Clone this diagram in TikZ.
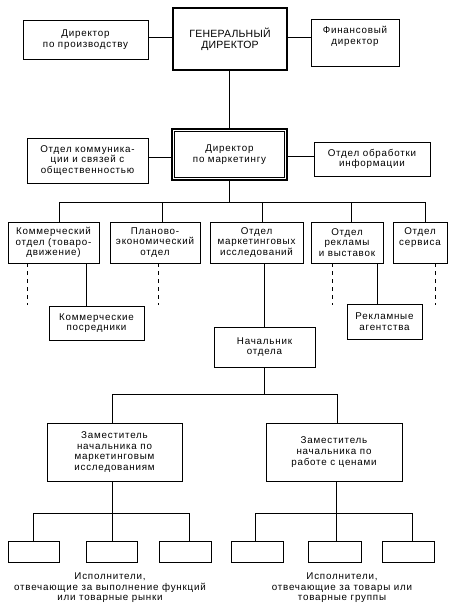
\documentclass[tikz,border=0pt]{standalone}
\usepackage{fontspec}
\setmainfont{Liberation Sans}[LetterSpace=8]
\newfontfamily\gdfont{Liberation Sans}[LetterSpace=2]
\begin{document}
\begin{tikzpicture}[x=1pt,y=-1pt,
  ebox/.style={draw, line width=0.9pt, align=center, inner sep=1pt,
    font=\fontsize{9.8}{10.6}\selectfont},
  conn/.style={line width=0.9pt},
  dashln/.style={line width=0.9pt, dash pattern=on 4pt off 4pt},
  lbl/.style={align=center, inner sep=0pt, font=\fontsize{9.8}{10.4}\selectfont}]
\useasboundingbox (0,0) rectangle (457,611);
% top row
\node[ebox, minimum width=125, minimum height=39] (prod) at (85.5,39.5) {Директор\\по производству};
\node[ebox, line width=1.9pt, minimum width=114, minimum height=62,
  font=\gdfont\fontsize{10.5}{11}\selectfont] (gd) at (230,39) {ГЕНЕРАЛЬНЫЙ\\ДИРЕКТОР};
\node[ebox, minimum width=88, minimum height=47, text depth=14pt] (fin) at (355,42.5) {Финансовый\\директор};
% marketing row
\node[ebox, minimum width=121, minimum height=45] (comm) at (87.5,160.5) {Отдел коммуника-\\ции и связей с\\общественностью};
\node[ebox, line width=1.9pt, minimum width=115, minimum height=51] (mkt) at (229.5,154.5) {Директор\\по маркетингу};
\draw[line width=0.9pt] ([shift={(3.5,3.5)}]mkt.north west) rectangle ([shift={(-3.5,-3.5)}]mkt.south east);
\node[ebox, minimum width=116, minimum height=34] (info) at (372,159) {Отдел обработки\\информации};
% departments
\node[ebox, minimum width=91, minimum height=41] (d1) at (53.5,242.5) {Коммерческий\\отдел (товаро-\\движение)};
\node[ebox, minimum width=90, minimum height=41] (d2) at (155,242.5) {Планово-\\экономический\\отдел};
\node[ebox, minimum width=93, minimum height=41] (d3) at (256.5,242.5) {Отдел\\маркетинговых\\исследований};
\node[ebox, minimum width=72, minimum height=41] (d4) at (347,242.5) {Отдел\\рекламы\\и выставок};
\node[ebox, minimum width=54, minimum height=41, text depth=12pt] (d5) at (420,242.5) {Отдел\\сервиса};
\node[ebox, minimum width=95, minimum height=34] (ci) at (96.5,323) {Коммерческие\\посредники};
\node[ebox, minimum width=75, minimum height=35] (aa) at (384.5,321.5) {Рекламные\\агентства};
\node[ebox, minimum width=101, minimum height=40] (head) at (264.5,347) {Начальник\\отдела};
\node[ebox, minimum width=135, minimum height=58] (dep1) at (114.5,452) {Заместитель\\начальника по\\маркетинговым\\исследованиям};
\node[ebox, minimum width=136, minimum height=58] (dep2) at (334,452) {Заместитель\\начальника по\\работе с ценами};
% executors
\node[ebox, minimum width=51, minimum height=21] (e1) at (33.5,551.5) {};
\node[ebox, minimum width=51, minimum height=21] (e2) at (111.5,551.5) {};
\node[ebox, minimum width=52, minimum height=21] (e3) at (185,551.5) {};
\node[ebox, minimum width=52, minimum height=21] (e4) at (257,551.5) {};
\node[ebox, minimum width=53, minimum height=21] (e5) at (334.5,551.5) {};
\node[ebox, minimum width=52, minimum height=21] (e6) at (408,551.5) {};
\node[lbl] (l1) at (110,588) {Исполнители,\\отвечающие за выполнение функций\\или товарные рынки};
\node[lbl] (l2) at (342,588) {Исполнители,\\отвечающие за товары или\\товарные группы};
% connectors top
\draw[conn] (prod.east |- 0,37) -- (gd.west |- 0,37);
\draw[conn] (gd.east |- 0,37) -- (fin.west |- 0,37);
\draw[conn] (229,0 |- gd.south) -- (229,0 |- mkt.north);
\draw[conn] (comm.east |- 0,157) -- (mkt.west |- 0,157);
\draw[conn] (mkt.east |- 0,156) -- (info.west |- 0,156);
% bus 1
\coordinate (b1) at (229,202);
\coordinate (b1L) at (59,202);
\coordinate (b1R) at (425,202);
\draw[conn] (229,0 |- mkt.south) -- (b1);
\draw[conn] (b1L) -- (b1R);
\draw[conn] (b1L) -- (b1L |- d1.north);
\draw[conn] (162,202) -- (162,0 |- d2.north);
\draw[conn] (262,202) -- (262,0 |- d3.north);
\draw[conn] (351,202) -- (351,0 |- d4.north);
\draw[conn] (b1R) -- (b1R |- d5.north);
% dashed
\draw[dashln] (27,0 |- d1.south) -- (27,305);
\draw[dashln] (158,0 |- d2.south) -- (158,305);
\draw[dashln] (332,0 |- d4.south) -- (332,305);
\draw[dashln] (435,0 |- d5.south) -- (435,305);
% solid subordinates
\draw[conn] (86,0 |- d1.south) -- (86,0 |- ci.north);
\draw[conn] (377,0 |- d4.south) -- (377,0 |- aa.north);
\draw[conn] (264,0 |- d3.south) -- (264,0 |- head.north);
% bus 2
\coordinate (b2) at (264,394);
\draw[conn] (264,0 |- head.south) -- (b2);
\draw[conn] (112,394) -- (337,394);
\draw[conn] (112,394) -- (112,0 |- dep1.north);
\draw[conn] (337,394) -- (337,0 |- dep2.north);
% bus 3
\draw[conn] (112,0 |- dep1.south) -- (112,513);
\draw[conn] (33,513) -- (189,513);
\draw[conn] (33,513) -- (33,0 |- e1.north);
\draw[conn] (112,513) -- (112,0 |- e2.north);
\draw[conn] (189,513) -- (189,0 |- e3.north);
% bus 4
\draw[conn] (336,0 |- dep2.south) -- (336,513);
\draw[conn] (255,513) -- (412,513);
\draw[conn] (255,513) -- (255,0 |- e4.north);
\draw[conn] (336,513) -- (336,0 |- e5.north);
\draw[conn] (412,513) -- (412,0 |- e6.north);
\end{tikzpicture}
\end{document}
